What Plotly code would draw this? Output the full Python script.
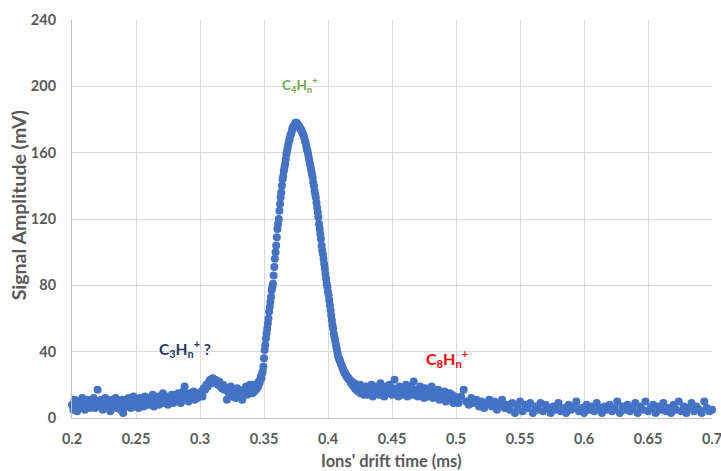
import numpy as np
import plotly.graph_objects as go

# ---- data ----
# segment A: 0.200 .. 0.339 ms, step 0.001
seg_a_start, seg_a_step = 0.200, 0.001
seg_a_vals = [
    8, 5, 11, 7, 4, 10, 9, 6, 12, 8, 5, 9, 11, 7, 6, 10, 8, 12, 6, 9,
    17, 10, 7, 11, 5, 9, 12, 6, 8, 10, 4, 11, 7, 9, 12, 6, 10, 8, 5, 11,
    3, 9, 11, 7, 12, 8, 6, 10, 13, 7, 9, 11, 6, 12, 8, 10, 7, 13, 9, 11,
    8, 12, 10, 14, 7, 11, 9, 13, 8, 12, 10, 15, 9, 11, 13, 8, 12, 10, 14, 9,
    11, 14, 10, 15, 12, 9, 13, 16, 19, 11, 14, 10, 15, 12, 13, 16, 11, 14, 12, 15,
    14, 16, 13, 18, 17, 20, 19, 22, 23, 21, 24, 22, 23, 21, 20, 22, 19, 18, 20, 17,
    18, 11, 16, 14, 19, 13, 17, 15, 12, 18, 14, 16, 13, 11, 17, 15, 19, 14, 18, 20,
]
# segment B (C4Hn+ peak): 0.3400 .. 0.4295 ms, step 0.0005
seg_b_start, seg_b_step = 0.340, 0.0005
seg_b_vals = [
    17, 19, 15, 18, 20, 16, 19, 17, 20, 18, 21, 19, 22, 21, 23, 25, 24, 27, 28, 31,
    36, 41, 44, 48, 51, 54, 57, 60, 64, 67, 70, 73, 77, 79, 81, 86, 91, 96, 100, 104,
    109, 114, 117, 120, 125, 129, 133, 136, 140, 144, 146, 149, 151, 153, 156, 159, 161, 163, 165, 167,
    168, 170, 171, 172, 174, 175, 176, 176, 177, 178, 177, 178,
    177, 177, 176, 176, 175, 174, 174, 173, 172, 171, 170, 169, 167, 166, 164, 162, 161, 159,
    157, 155, 153, 151, 149, 147, 145, 142, 140, 137, 135, 133, 130, 127, 124, 121, 117, 114,
    111, 108, 104, 101, 99, 96, 93, 90, 87, 84, 81, 79, 76, 74, 71, 68, 65, 62, 59, 56,
    54, 51, 49, 47, 45, 43, 41, 39, 37, 36, 35, 34, 33, 32, 31, 30, 29, 28, 27, 27,
    26, 25, 25, 24, 24, 23, 23, 22, 21, 22, 20, 21, 19, 21, 18, 20, 17, 20, 18, 16,
    19, 17, 20, 15, 18, 16, 19, 17, 14, 18, 16, 19,
]
# segment C: 0.430 .. 0.499 ms, step 0.001
seg_c_start, seg_c_step = 0.430, 0.001
seg_c_vals = [
    17, 14, 19, 16, 20, 13, 18, 15, 19, 17, 14, 21, 16, 18, 13, 19, 15, 17, 20, 16,
    14, 18, 23, 15, 17, 13, 19, 16, 14, 18, 15, 20, 13, 17, 16, 19, 14, 22, 15, 17,
    13, 16, 19, 14, 17, 12, 18, 15, 13, 17, 14, 19, 12, 16, 15, 13, 17, 11, 15, 14,
    12, 16, 10, 14, 13, 15, 11, 14, 9, 13,
]
# segment D (C8Hn+ region / baseline): 0.500 .. 0.700 ms, step 0.002
seg_d_start, seg_d_step = 0.500, 0.002
seg_d_vals = [
    12, 9, 13, 17, 10, 8, 12, 9, 11, 7,
    10, 6, 9, 11, 7, 10, 5, 8, 11, 6,
    8, 5, 9, 3, 7, 10, 4, 8, 6, 9,
    3, 7, 5, 9, 4, 8, 6, 3, 7, 5,
    9, 4, 6, 3, 8, 5, 7, 10, 4, 6,
    3, 8, 5, 7, 4, 9, 6, 3, 7, 5,
    8, 4, 6, 10, 3, 7, 5, 8, 4, 6,
    9, 3, 7, 5, 10, 4, 6, 8, 3, 7,
    5, 9, 4, 6, 3, 8, 5, 10, 4, 7,
    3, 6, 9, 4, 7, 5, 3, 10, 6, 4,
    5,
]

x_ticks = [0.2, 0.25, 0.3, 0.35, 0.4, 0.45, 0.5, 0.55, 0.6, 0.65, 0.7]
x_tick_text = ["0.2", "0.25", "0.3", "0.35", "0.4", "0.45", "0.5", "0.55", "0.6", "0.65", "0.7"]
y_ticks = [0, 40, 80, 120, 160, 200, 240]

# (text, x, y, colour, font size)
labels = [
    ("C<sub>3</sub>H<sub>n</sub><sup>+</sup> ?", 0.288, 42, "#203864", 15.5),
    ("C<sub>4</sub>H<sub>n</sub><sup>+</sup>", 0.3785, 201, "#70AD47", 13.5),
    ("C<sub>8</sub>H<sub>n</sub><sup>+</sup>", 0.4926, 36, "#FF0000", 16),
]

def seg_times(start, step, vals):
    return [round(start + i * step, 5) for i in range(len(vals))]

t = (seg_times(seg_a_start, seg_a_step, seg_a_vals)
     + seg_times(seg_b_start, seg_b_step, seg_b_vals)
     + seg_times(seg_c_start, seg_c_step, seg_c_vals)
     + seg_times(seg_d_start, seg_d_step, seg_d_vals))
v = seg_a_vals + seg_b_vals + seg_c_vals + seg_d_vals

FONT = "Lato"
GRAY = "#595959"

fig = go.Figure()
fig.add_trace(go.Scatter(
    x=t, y=v, mode="markers",
    marker=dict(color="#4472C4", size=8, line=dict(width=0)),
    cliponaxis=False, showlegend=False,
))

for text, xx, yy, col, fs in labels:
    fig.add_annotation(x=xx, y=yy, text=text, showarrow=False,
                       font=dict(family=FONT, size=fs, color=col, weight="bold"))

# axis titles (placed as in the reference)
fig.add_annotation(xref="paper", yref="paper", x=0.4995, y=-0.108,
                   xanchor="center", yanchor="middle",
                   text="Ions' drift time (ms)", showarrow=False,
                   font=dict(family=FONT, size=16.5, color=GRAY, weight="bold"))
fig.add_annotation(xref="paper", yref="paper", x=-0.084, y=0.535,
                   xanchor="center", yanchor="middle",
                   text="Signal Amplitude (mV)", showarrow=False, textangle=-90,
                   font=dict(family=FONT, size=19.5, color=GRAY, weight="bold"))

fig.update_layout(
    width=721, height=471,
    margin=dict(l=72, r=9, t=20, b=53),
    paper_bgcolor="white", plot_bgcolor="white",
    font=dict(family=FONT, color=GRAY),
    xaxis=dict(
        range=[0.2, 0.7], tickvals=x_ticks, ticktext=x_tick_text,
        showgrid=True, gridcolor="#D9D9D9", gridwidth=1,
        showline=True, linecolor="#BFBFBF", linewidth=1,
        zeroline=False, ticks="", ticklabelstandoff=8,
        ticklabeloverflow="allow", automargin=False,
        tickfont=dict(family=FONT, size=14.5, color=GRAY, weight="bold"),
    ),
    yaxis=dict(
        range=[0, 240], tickvals=y_ticks,
        showgrid=True, gridcolor="#D9D9D9", gridwidth=1,
        showline=True, linecolor="#BFBFBF", linewidth=1,
        zeroline=False, ticks="", ticklabelstandoff=12,
        ticklabeloverflow="allow", automargin=False,
        tickfont=dict(family=FONT, size=14.5, color=GRAY, weight="bold"),
    ),
)

fig.write_html("out.html")
